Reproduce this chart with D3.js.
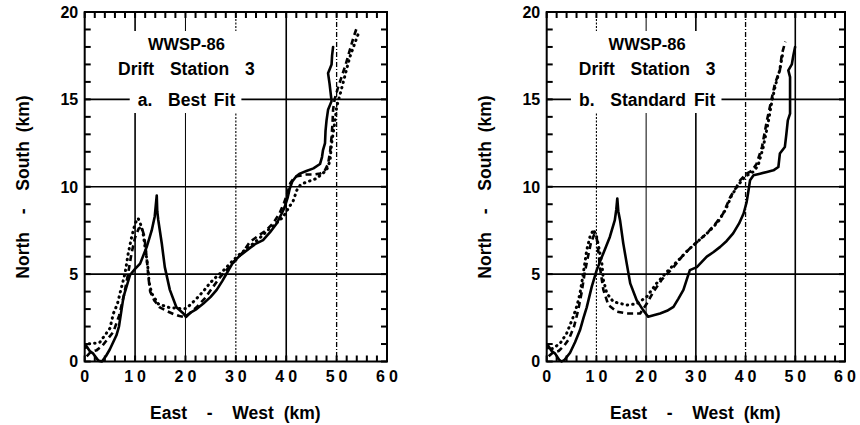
<!DOCTYPE html>
<html><head><meta charset="utf-8">
<script src="https://cdn.jsdelivr.net/npm/d3@7"></script>
<style>
html,body{margin:0;padding:0;background:#fff;}
svg{display:block;background:#fff;}
text{font-family:"Liberation Sans",Arial,Helvetica,sans-serif;font-weight:bold;fill:#000;white-space:pre;}
</style></head><body>
<svg id="chart" width="860" height="425"></svg>
<script>
// ---- axis values and labels ----
const xTicks = [0, 10, 20, 30, 40, 50, 60];
const yTicks = [0, 5, 10, 15, 20];
const xMinorStep = 2;
const yMinorStep = 1;
const gridX = [10, 20, 30, 40, 50];
const gridY = [5, 10, 15];
const headerLines = ["WWSP-86", "Drift Station 3"];
const panelCaptions = ["a.  Best Fit", "b.  Standard Fit"];
const xTitle = "East  -  West (km)";
const yTitle = "North  -  South (km)";

// ---- drift tracks, east-west km / north-south km ----
// a. Best Fit
const bestObserved = [[0.3,0.9],[1.0,0.6],[1.7,0.45],[2.7,0.05],[3.4,0],[4.2,0.3],[5.0,0.7],[6.3,1.5],[6.8,2.0],[7.7,3.7],[9.0,4.95],[10.0,5.3],[11.0,5.6],[12.3,6.55],[13.3,7.5],[13.9,8.3],[14.1,8.9],[14.3,9.5],[14.4,8.6],[14.6,8.1],[15.3,6.75],[15.9,5.4],[16.9,4.1],[18.2,3.1],[19.6,2.75],[20.1,2.55],[21.0,2.8],[22.2,3.0],[23.5,3.3],[25.0,3.7],[26.2,4.1],[27.3,4.6],[28.2,5.05],[29.5,5.7],[31.0,6.1],[32.8,6.5],[34.0,6.75],[35.4,6.95],[36.8,7.4],[38.1,7.9],[39.0,8.4],[39.7,8.85],[40.3,9.4],[40.7,9.9],[41.2,10.3],[42.0,10.6],[42.7,10.75],[44.0,10.9],[45.4,11.05],[46.7,11.3],[47.1,11.7],[47.3,12.1],[47.7,12.5],[47.8,13.2],[48.0,13.8],[48.3,14.4],[49.0,14.9],[48.8,15.4],[48.6,15.9],[48.3,16.5],[49.0,17.0],[49.1,17.5],[49.3,18.0]];
const bestModelDashed = [[0.4,0.3],[1.2,0.55],[2.4,0.65],[3.5,0.9],[4.6,1.3],[5.7,1.7],[6.8,2.6],[7.8,3.8],[8.6,5.0],[9.3,6.2],[10.0,7.1],[10.7,7.6],[11.3,7.7],[11.8,7.2],[12.1,6.5],[12.4,5.6],[12.7,4.7],[13.0,4.0],[13.8,3.5],[14.9,3.1],[16.2,2.9],[17.6,2.72],[18.8,2.6],[19.8,2.55],[20.8,2.75],[22.2,3.1],[23.8,3.6],[25.3,4.2],[26.8,4.8],[28.2,5.25],[30.0,5.8],[31.5,6.3],[32.8,6.85],[34.5,7.2],[36.0,7.5],[37.5,7.95],[38.7,8.5],[39.6,9.1],[40.3,9.7],[40.8,10.2],[41.5,10.5],[42.1,10.6],[44.0,10.7],[45.5,10.7],[46.7,10.75],[47.6,10.9],[48.3,11.3],[48.7,12.0],[49.0,12.85],[49.2,13.7],[49.3,14.4],[49.6,15.0],[50.2,15.6],[51.0,16.3],[51.8,17.0],[52.6,17.8],[53.3,18.5],[54.0,19.1]];
const bestModelDotted = [[0.2,0.8],[0.6,1.0],[1.5,1.05],[2.4,1.04],[3.0,1.1],[4.0,1.5],[5.0,1.9],[5.7,2.75],[6.5,3.3],[7.0,3.9],[8.0,5.04],[8.65,6.2],[9.3,7.1],[10.0,7.9],[10.6,8.2],[11.3,7.7],[11.6,7.3],[12.0,6.5],[12.5,5.5],[12.8,4.5],[13.3,3.9],[14.6,3.3],[16.6,3.1],[18.6,3.04],[20.2,3.04],[21.5,3.4],[22.2,3.6],[23.5,4.0],[24.9,4.5],[26.3,4.9],[27.5,5.2],[29.5,5.8],[31.0,6.2],[32.8,6.6],[34.5,7.0],[36.3,7.5],[38.0,7.9],[39.4,8.27],[40.5,8.8],[41.4,9.2],[42.1,9.8],[42.8,10.1],[43.4,10.2],[46.0,10.47],[48.0,10.94],[48.7,11.5],[49.0,12.47],[49.7,13.8],[50.0,14.56],[50.7,15.3],[51.6,16.3],[52.6,17.4],[53.6,18.2],[54.3,18.75]];

// b. Standard Fit
const stdObserved = [[0.3,0.9],[1.0,0.6],[1.7,0.45],[2.5,0.1],[3.0,0],[3.6,0.1],[4.7,0.5],[5.7,1.1],[6.7,1.8],[7.4,2.5],[8.05,3.1],[9.05,4.27],[10.06,5.23],[10.7,5.7],[11.4,6.2],[12.7,7.13],[13.7,8.09],[14.0,8.7],[14.2,9.33],[14.4,8.6],[14.75,8.09],[15.4,6.76],[16.1,5.6],[16.8,4.47],[18.1,3.5],[19.4,2.94],[20.4,2.56],[21.5,2.65],[22.8,2.75],[24.2,2.9],[25.5,3.13],[26.5,3.6],[27.5,4.1],[28.3,4.8],[28.8,5.23],[30.2,5.4],[31.2,5.7],[32.2,6.0],[33.5,6.25],[34.9,6.56],[36.2,6.9],[37.5,7.33],[38.7,7.9],[39.6,8.47],[40.2,9.1],[40.6,9.8],[40.9,10.37],[41.6,10.66],[42.9,10.75],[44.3,10.85],[45.6,10.94],[46.6,11.13],[46.9,11.9],[47.9,12.27],[48.2,13.0],[48.5,13.8],[48.95,14.18],[48.95,15.1],[48.95,16.27],[48.6,16.66],[49.3,17.0],[49.6,17.5],[49.96,18.0]];
const stdModelDashed = [[0.4,0.3],[1.2,0.5],[2.4,0.6],[3.5,0.9],[4.5,1.3],[5.5,2.0],[6.3,2.9],[7.0,3.9],[7.6,5.0],[8.3,6.0],[8.9,6.8],[9.6,7.3],[10.1,7.0],[10.5,6.0],[10.7,5.4],[11.4,4.1],[12.4,3.23],[14.1,2.85],[16.1,2.75],[18.8,2.75],[20.1,3.3],[21.5,4.0],[23.2,4.7],[25.5,5.4],[27.2,6.0],[28.8,6.47],[30.5,6.9],[32.2,7.33],[34.0,7.9],[35.5,8.47],[36.9,9.4],[38.0,9.9],[38.9,10.37],[40.2,10.75],[41.2,10.9],[42.2,11.3],[43.3,12.27],[44.3,13.8],[45.3,15.1],[45.9,15.9],[46.9,16.66],[47.3,17.6],[48.0,18.3]];
const stdModelDotted = [[0.2,0.8],[0.66,0.66],[1.5,0.8],[2.7,1.04],[4.0,1.6],[5.35,2.56],[6.1,3.2],[6.7,3.9],[7.36,5.04],[8.05,6.37],[8.7,7.13],[9.4,7.55],[10.0,7.2],[10.5,6.5],[11.1,5.6],[11.4,4.66],[12.1,3.9],[13.4,3.42],[16.1,3.23],[18.1,3.3],[20.1,3.7],[22.1,4.47],[24.5,5.23],[26.5,5.8],[28.5,6.4],[30.5,6.9],[32.5,7.4],[34.5,8.0],[36.0,8.7],[37.2,9.5],[38.5,10.1],[40.0,10.6],[41.5,10.85],[42.5,11.2],[43.5,12.2],[44.5,13.6],[45.3,14.9],[46.0,15.8],[46.8,16.6],[47.4,17.5]];

// ---- layout ----
const panels = [
  { left: 84.7, right: 387, caption: panelCaptions[0],
    tracks: [bestObserved, bestModelDashed, bestModelDotted],
    gridStyle: { 10: "solid", 20: "thin", 30: "dotted", 40: "solid", 50: "dashdot" } },
  { left: 546.7, right: 845, caption: panelCaptions[1],
    tracks: [stdObserved, stdModelDashed, stdModelDotted],
    gridStyle: { 10: "dotted", 20: "thin", 30: "solid", 40: "dashdot", 50: "solid" } }
];
const plotTop = 12, plotBottom = 361.5;

const gridStroke = {
  solid:   { w: 1.6, dash: null },
  thin:    { w: 1.0, dash: null },
  dotted:  { w: 1.1, dash: "2,1.5" },
  dashdot: { w: 1.3, dash: "5,2,1,2" }
};
const trackStyle = [
  { w: 2.6, dash: null, cap: "round" },
  { w: 2.6, dash: "6,4", cap: "butt" },
  { w: 3.0, dash: "0.5,5", cap: "round" }
];

const svg = d3.select("#chart");
const tickLayer = [];

panels.forEach(p => {
  const x = d3.scaleLinear().domain([0, 60]).range([p.left, p.right]);
  const y = d3.scaleLinear().domain([0, 20]).range([plotBottom, plotTop]);
  const g = svg.append("g");

  // vertical grid lines
  g.selectAll("line.vgrid").data(gridX).join("line")
    .attr("x1", d => x(d)).attr("x2", d => x(d))
    .attr("y1", plotTop).attr("y2", plotBottom)
    .attr("stroke", "#000")
    .attr("stroke-width", d => gridStroke[p.gridStyle[d]].w)
    .attr("stroke-dasharray", d => gridStroke[p.gridStyle[d]].dash);

  // header block
  const cx = x(20.2);
  const header = g.append("g");
  const headerText = header.selectAll("text").data(headerLines).join("text")
    .attr("x", cx).attr("y", (d, i) => 50 + i * 25)
    .attr("text-anchor", "middle").attr("font-size", (d, i) => i ? 17.5 : 16.5)
    .style("word-spacing", (d, i) => i ? "11px" : null).text(d => d);
  const cap = g.append("g");
  const capText = cap.append("text").attr("x", cx).attr("y", 105.5)
    .attr("text-anchor", "middle").attr("font-size", 17.5)
    .style("word-spacing", "3px").text(p.caption);

  const boxes = headerText.nodes().map(n => n.getBBox()).concat([capText.node().getBBox()]);
  const bx0 = d3.min(boxes, b => b.x) - 2, bx1 = d3.max(boxes, b => b.x + b.width) + 2;
  g.insert("rect", () => header.node())
    .attr("x", bx0).attr("y", 31).attr("width", bx1 - bx0).attr("height", 113 - 31)
    .attr("fill", "#fff");

  // horizontal grid lines drawn over the header block
  g.insert("g", () => header.node()).selectAll("line").data(gridY).join("line")
    .attr("x1", p.left).attr("x2", p.right)
    .attr("y1", d => y(d)).attr("y2", d => y(d))
    .attr("stroke", "#000").attr("stroke-width", 1.7);

  const cb = capText.node().getBBox();
  cap.insert("rect", "text")
    .attr("x", cb.x - 8).attr("y", cb.y).attr("width", cb.width + 14).attr("height", cb.height)
    .attr("fill", "#fff");

  // drift tracks
  const line = d3.line().x(d => x(d[0])).y(d => y(d[1]));
  p.tracks.forEach((t, i) => {
    const s = trackStyle[i];
    g.append("path").datum(t).attr("d", line)
      .attr("fill", "none").attr("stroke", "#000")
      .attr("stroke-width", s.w).attr("stroke-dasharray", s.dash)
      .attr("stroke-linecap", s.cap).attr("stroke-linejoin", "round");
  });

  // frame
  g.append("rect").attr("x", p.left).attr("y", plotTop)
    .attr("width", p.right - p.left).attr("height", plotBottom - plotTop)
    .attr("fill", "none").attr("stroke", "#000").attr("stroke-width", 2);

  // inward tick marks, collected and drawn on a top layer
  const tl = 6;
  d3.range(0, 60 + 0.001, xMinorStep).forEach(v => {
    tickLayer.push({ x: x(v) - 1, y: plotBottom - tl, w: 2, h: tl });
    tickLayer.push({ x: x(v) - 1, y: plotTop, w: 2, h: tl });
  });
  d3.range(0, 20 + 0.001, yMinorStep).forEach(v => {
    tickLayer.push({ x: p.left, y: y(v) - 1, w: tl, h: 2 });
    tickLayer.push({ x: p.right - tl, y: y(v) - 1, w: tl, h: 2 });
  });

  // tick labels
  const gx = g.append("g");
  gx.selectAll("text").data(xTicks).join("text")
    .attr("x", d => x(d) + 2).attr("y", plotBottom + 20.5)
    .attr("text-anchor", "middle").attr("font-size", 16)
    .style("letter-spacing", "4px").text(d3.format("d"));

  const gy = g.append("g");
  gy.selectAll("text").data(yTicks).join("text")
    .attr("x", p.left - 6.5).attr("y", d => y(d)).attr("dy", "0.36em")
    .attr("text-anchor", "end").attr("font-size", 16).text(d3.format("d"));

  // axis titles
  g.append("text").attr("x", (p.left + p.right) / 2 - 0.5).attr("y", 419)
    .attr("text-anchor", "middle").attr("font-size", 17.5).style("word-spacing", "5px").text(xTitle);
  g.append("text").attr("transform", `translate(${p.left - 56},${187}) rotate(-90)`)
    .attr("text-anchor", "middle").attr("font-size", 17.5).style("word-spacing", "4px").text(yTitle);
});

svg.append("g").attr("class", "tick-marks").selectAll("rect").data(tickLayer).join("rect")
  .attr("x", d => d.x).attr("y", d => d.y)
  .attr("width", d => d.w).attr("height", d => d.h)
  .attr("fill", "#000");
</script>
</body></html>
